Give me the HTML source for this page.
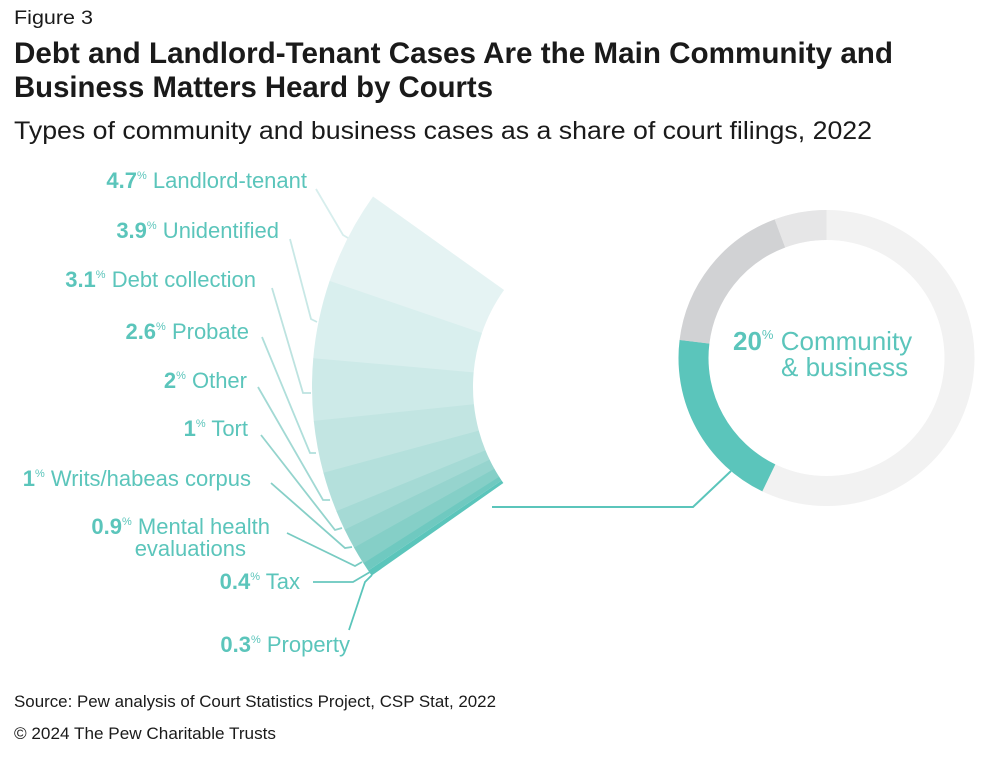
<!DOCTYPE html>
<html><head><meta charset="utf-8"><style>
body{margin:0;background:#fff;width:990px;height:752px;overflow:hidden;font-family:"Liberation Sans",sans-serif}
</style></head><body>
<svg width="990" height="752" viewBox="0 0 990 752" xmlns="http://www.w3.org/2000/svg" font-family="Liberation Sans, sans-serif">
<text x="14" y="24" font-size="19" fill="#1a1a1a" textLength="79" lengthAdjust="spacingAndGlyphs">Figure 3</text>
<text x="14" y="63" font-size="29.5" font-weight="bold" fill="#1a1a1a" textLength="879" lengthAdjust="spacingAndGlyphs">Debt and Landlord-Tenant Cases Are the Main Community and</text>
<text x="14" y="97" font-size="29.5" font-weight="bold" fill="#1a1a1a" textLength="479" lengthAdjust="spacingAndGlyphs">Business Matters Heard by Courts</text>
<text x="14" y="139" font-size="25" fill="#1a1a1a" textLength="858" lengthAdjust="spacingAndGlyphs">Types of community and business cases as a share of court filings, 2022</text>

<g fill="none" stroke-width="161">
<circle cx="640" cy="387" r="247.5" stroke="#e5f3f3" stroke-dasharray="72.4 2000" transform="rotate(198.753 640 387)"/>
<circle cx="640" cy="387" r="247.5" stroke="#d9efee" stroke-dasharray="60.2 2000" transform="rotate(184.936 640 387)"/>
<circle cx="640" cy="387" r="247.5" stroke="#cdeae8" stroke-dasharray="47.9 2000" transform="rotate(173.953 640 387)"/>
<circle cx="640" cy="387" r="247.5" stroke="#c2e5e2" stroke-dasharray="40.3 2000" transform="rotate(164.741 640 387)"/>
<circle cx="640" cy="387" r="247.5" stroke="#b4e0dc" stroke-dasharray="31.1 2000" transform="rotate(157.655 640 387)"/>
<circle cx="640" cy="387" r="247.5" stroke="#a5dad5" stroke-dasharray="15.8 2000" transform="rotate(154.112 640 387)"/>
<circle cx="640" cy="387" r="247.5" stroke="#96d4ce" stroke-dasharray="15.8 2000" transform="rotate(150.569 640 387)"/>
<circle cx="640" cy="387" r="247.5" stroke="#85cfc7" stroke-dasharray="14.3 2000" transform="rotate(147.38 640 387)"/>
<circle cx="640" cy="387" r="247.5" stroke="#6fc9c0" stroke-dasharray="6.6 2000" transform="rotate(145.963 640 387)"/>
<circle cx="640" cy="387" r="247.5" stroke="#5bc5bb" stroke-dasharray="4.6 2000" transform="rotate(144.9 640 387)"/>
</g>

<g fill="none" stroke-width="30">
<circle cx="826.5" cy="358" r="133" stroke="#f2f2f2"/>
<circle cx="826.5" cy="358" r="133" stroke="#5bc5bb" stroke-dasharray="165.5 2000" transform="rotate(115.7 826.5 358)"/>
<circle cx="826.5" cy="358" r="133" stroke="#d1d2d4" stroke-dasharray="145.1 2000" transform="rotate(187 826.5 358)"/>
<circle cx="826.5" cy="358" r="133" stroke="#e6e6e7" stroke-dasharray="47.6 2000" transform="rotate(249.5 826.5 358)"/>
</g>
<polyline points="492,507 693,507 731,471" fill="none" stroke="#5bc5bb" stroke-width="2"/>
<text x="733" y="350" font-size="26" fill="#5bc5bb"><tspan font-weight="bold">20</tspan><tspan font-size="13" dy="-11">%</tspan><tspan dy="11"> Community</tspan></text>
<text x="781" y="376" font-size="26" fill="#5bc5bb">&amp; business</text>

<g fill="none" stroke-width="1.8">
<polyline points="316,189 343,235 348,238" stroke="#d7eeed"/>
<polyline points="290,239 311,319 317,322" stroke="#c8e8e6"/>
<polyline points="272,288 303,393 311,393" stroke="#bde3e0"/>
<polyline points="262,337 310,453 316,453" stroke="#b0dfdb"/>
<polyline points="258,387 323,500 330,500" stroke="#a2d9d4"/>
<polyline points="261,435 335,530 342,528" stroke="#94d4cd"/>
<polyline points="271,483 345,548 352,547" stroke="#86cfc7"/>
<polyline points="287,533 355,566 362,562" stroke="#78cbc2"/>
<polyline points="313,582 353,582 370,572" stroke="#68c7be"/>
<polyline points="349,630 365,582 372,575" stroke="#5bc5bb"/>
</g>

<g font-size="22" fill="#5bc5bb" text-anchor="end">
<text x="307" y="188"><tspan font-weight="bold">4.7</tspan><tspan font-size="11" dy="-9">%</tspan><tspan dy="9"> Landlord-tenant</tspan></text>
<text x="279" y="238"><tspan font-weight="bold">3.9</tspan><tspan font-size="11" dy="-9">%</tspan><tspan dy="9"> Unidentified</tspan></text>
<text x="256" y="287"><tspan font-weight="bold">3.1</tspan><tspan font-size="11" dy="-9">%</tspan><tspan dy="9"> Debt collection</tspan></text>
<text x="249" y="339"><tspan font-weight="bold">2.6</tspan><tspan font-size="11" dy="-9">%</tspan><tspan dy="9"> Probate</tspan></text>
<text x="247" y="388"><tspan font-weight="bold">2</tspan><tspan font-size="11" dy="-9">%</tspan><tspan dy="9"> Other</tspan></text>
<text x="248" y="436"><tspan font-weight="bold">1</tspan><tspan font-size="11" dy="-9">%</tspan><tspan dy="9"> Tort</tspan></text>
<text x="251" y="486"><tspan font-weight="bold">1</tspan><tspan font-size="11" dy="-9">%</tspan><tspan dy="9"> Writs/habeas corpus</tspan></text>
<text x="270" y="534"><tspan font-weight="bold">0.9</tspan><tspan font-size="11" dy="-9">%</tspan><tspan dy="9"> Mental health</tspan></text>
<text x="246" y="556">evaluations</text>
<text x="300" y="589"><tspan font-weight="bold">0.4</tspan><tspan font-size="11" dy="-9">%</tspan><tspan dy="9"> Tax</tspan></text>
<text x="350" y="652"><tspan font-weight="bold">0.3</tspan><tspan font-size="11" dy="-9">%</tspan><tspan dy="9"> Property</tspan></text>
</g>

<text x="14" y="707" font-size="17" fill="#1a1a1a" textLength="482" lengthAdjust="spacingAndGlyphs">Source: Pew analysis of Court Statistics Project, CSP Stat, 2022</text>
<text x="14" y="739" font-size="17" fill="#1a1a1a" textLength="262" lengthAdjust="spacingAndGlyphs">© 2024 The Pew Charitable Trusts</text>
</svg>
</body></html>
